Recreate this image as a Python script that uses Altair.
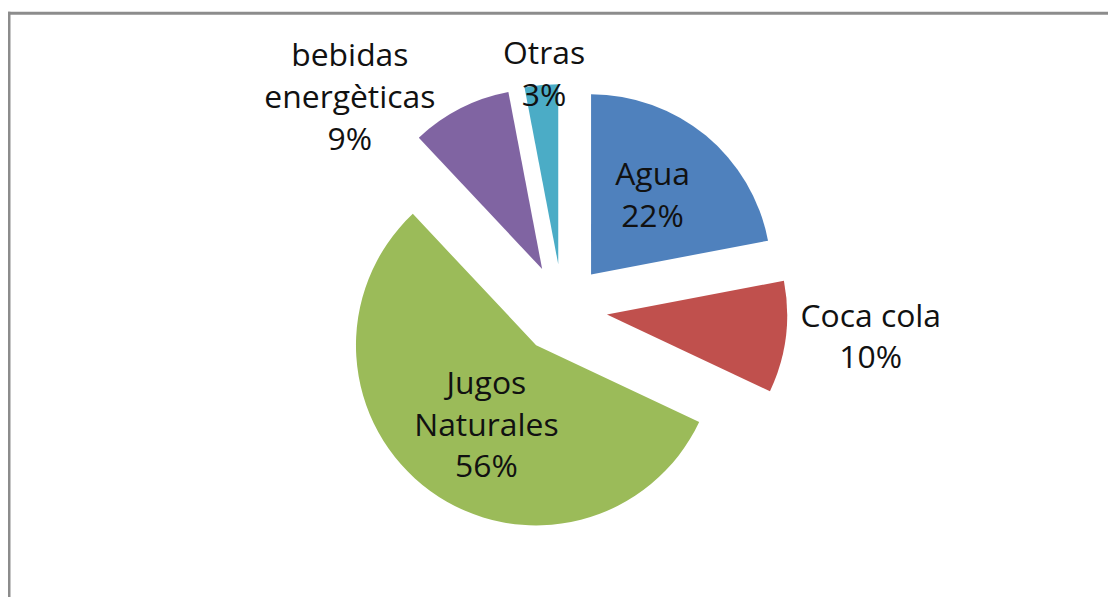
import math
import pandas as pd
import altair as alt

# ---- data -------------------------------------------------------------
categories = ["Agua", "Coca cola", "Jugos Naturales", "bebidas energèticas", "Otras"]
percent = [22, 10, 56, 9, 3]
label_names = ["Agua", "Coca cola", "Jugos\nNaturales", "bebidas\nenergèticas", "Otras"]
colors = ["#4F81BD", "#C0504D", "#9BBB59", "#8064A2", "#4BACC6"]

# ---- label layout (polar, relative to pie centre) ----------------------
label_turn_deg = [-1.0, -1.9, -2.9, -18.2, 0.9]
label_dist = [145, 311, 140, 301, 236]

# ---- layout -----------------------------------------------------------
W, H = 1104, 585
CX, CY = 556, 297
R = 181
EXPLODE = 45
FONT = "Open Sans"
FONT_SIZE = 32
LINE_H = 42

df = pd.DataFrame({
    "cat": categories,
    "pct": percent,
    "name": label_names,
    "order": list(range(len(categories))),
    "turn": label_turn_deg,
    "dist": label_dist,
})

base = (
    alt.Chart(df)
    .transform_window(cum="sum(pct)", sort=[alt.SortField("order")], frame=[None, 0])
    .transform_calculate(t0="datum.cum - datum.pct")
    .transform_calculate(t1="datum.cum")
    .transform_calculate(mid="(datum.cum - datum.pct / 2) / 100 * 2 * PI")
    .transform_calculate(px=f"{CX} + {EXPLODE} * sin(datum.mid)")
    .transform_calculate(py=f"{CY} - {EXPLODE} * cos(datum.mid)")
    .transform_calculate(lab="datum.name + '\\n' + datum.pct + '%'")
    .transform_calculate(nl="length(split(datum.lab, '\\n'))")
    .transform_calculate(la="datum.mid + datum.turn * PI / 180")
    .transform_calculate(lx=f"{CX} + datum.dist * sin(datum.la)")
    .transform_calculate(ly=f"{CY} - datum.dist * cos(datum.la) - (datum.nl - 1) * {LINE_H} / 2")
)

arcs = base.mark_arc(radius=R).encode(
    theta=alt.Theta("t0:Q", scale=alt.Scale(domain=[0, 100], range=[0, 2 * math.pi])),
    theta2="t1:Q",
    x=alt.X("px:Q", scale=None),
    y=alt.Y("py:Q", scale=None),
    color=alt.Color("cat:N", scale=alt.Scale(domain=categories, range=colors), legend=None),
)

texts = base.mark_text(
    font=FONT, fontSize=FONT_SIZE, lineBreak="\n", lineHeight=LINE_H,
    align="center", baseline="middle", color="#111111",
).encode(
    x=alt.X("lx:Q", scale=None),
    y=alt.Y("ly:Q", scale=None),
    text="lab:N",
)

frame_data = alt.Data(values=[{}])
frame_top = alt.Chart(frame_data).mark_rule(color="#8c8c8c", strokeWidth=3, strokeCap="square").encode(
    x=alt.value(0), x2=alt.value(W), y=alt.value(0)
)
frame_left = alt.Chart(frame_data).mark_rule(color="#8c8c8c", strokeWidth=3, strokeCap="square").encode(
    x=alt.value(0), y=alt.value(0), y2=alt.value(H)
)

chart = (
    alt.layer(frame_top, frame_left, arcs, texts)
    .properties(
        width=W, height=H,
        padding={"left": 1, "top": 4, "right": 0, "bottom": 0},
        autosize="none",
        background="white",
    )
    .configure_view(stroke=None)
)

chart.save("out.html", embed_options={"renderer": "svg", "actions": False})
